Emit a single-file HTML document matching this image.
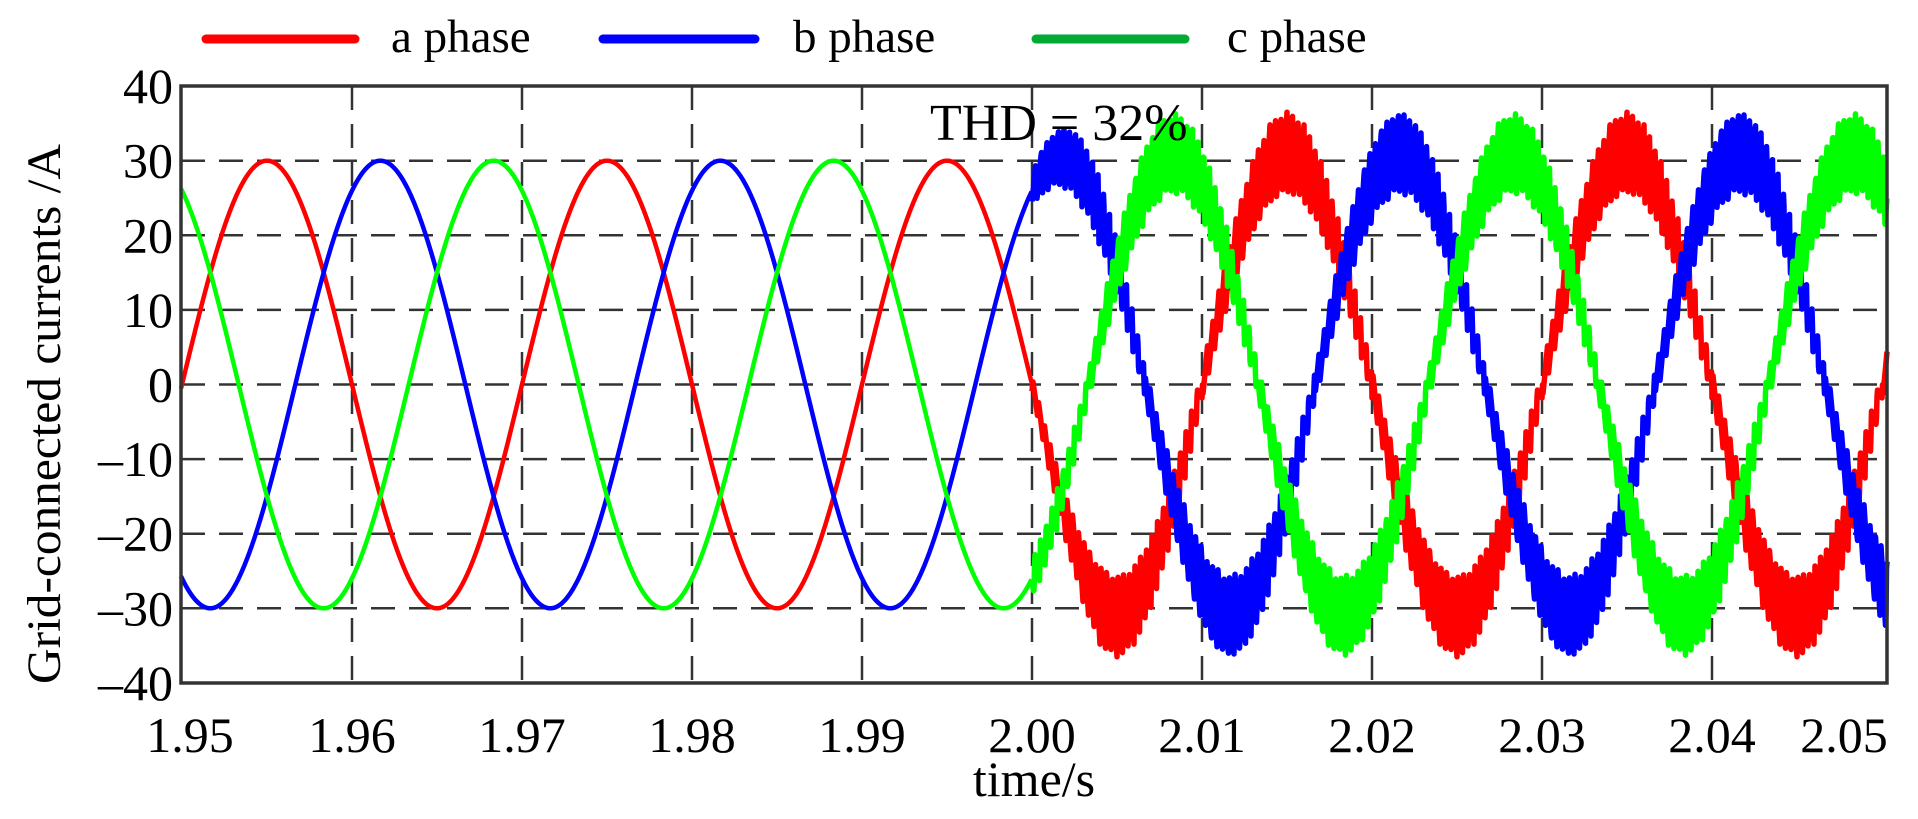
<!DOCTYPE html>
<html><head><meta charset="utf-8"><style>
html,body{margin:0;padding:0;background:#fff;}
svg{display:block;font-family:"Liberation Serif",serif;}
</style></head><body>
<svg id="s" width="1918" height="819" viewBox="0 0 1918 819" xmlns="http://www.w3.org/2000/svg">
<rect width="1918" height="819" fill="#fff"/>
<g id="grid" stroke="#333" stroke-width="2.5" stroke-dasharray="24,14" fill="none"></g>
<g id="traces" fill="none" stroke-linejoin="round"></g>
<rect x="181" y="86" width="1706" height="597" fill="none" stroke="#333" stroke-width="3.5"/>
<g id="ticks" fill="#000" font-size="50"></g>
<text x="930" y="140" font-size="52">THD = 32%</text>
<text x="1034" y="796" font-size="50" text-anchor="middle">time/s</text>
<text transform="translate(60,414) rotate(-90)" font-size="48" text-anchor="middle" textLength="540" lengthAdjust="spacingAndGlyphs">Grid-connected currents /A</text>
<line x1="206" y1="39" x2="355" y2="39" stroke="#f00" stroke-width="9" stroke-linecap="round"/>
<text x="391" y="52" font-size="47">a phase</text>
<line x1="603" y1="39" x2="755" y2="39" stroke="#00f" stroke-width="9" stroke-linecap="round"/>
<text x="793" y="52" font-size="47">b phase</text>
<line x1="1036" y1="39" x2="1185" y2="39" stroke="#0a3" stroke-width="9" stroke-linecap="round"/>
<text x="1227" y="52" font-size="47">c phase</text>
</svg>
<script>
var NS="http://www.w3.org/2000/svg";
function X(t){return 182+(t-1.95)*17000;}
function Y(v){return 384.5-v*7.46;}
var g=document.getElementById('grid'),tk=document.getElementById('ticks');
for(var i=1;i<=9;i++){var x=X(1.95+i*0.01);var l=document.createElementNS(NS,'line');
l.setAttribute('x1',x);l.setAttribute('x2',x);l.setAttribute('y1',86);l.setAttribute('y2',683);g.appendChild(l);}
for(var v=-30;v<=30;v+=10){var y=Y(v);var l=document.createElementNS(NS,'line');
l.setAttribute('x1',181);l.setAttribute('x2',1887);l.setAttribute('y1',y);l.setAttribute('y2',y);g.appendChild(l);}
for(var v=-40;v<=40;v+=10){var t=document.createElementNS(NS,'text');t.setAttribute('x',173);t.setAttribute('y',Y(v)+17);
t.setAttribute('text-anchor','end');t.textContent=(v<0?'\u2013'+(-v):''+v);tk.appendChild(t);}
var labs=['1.95','1.96','1.97','1.98','1.99','2.00','2.01','2.02','2.03','2.04','2.05'];
for(var i=0;i<11;i++){var t=document.createElementNS(NS,'text');t.setAttribute('x',X(1.95+i*0.01)+(i==0?8:(i==10?-38:0)));t.setAttribute('y',752);
t.setAttribute('text-anchor','middle');t.textContent=labs[i];tk.appendChild(t);}
var tr=document.getElementById('traces');
var cols=['#f00','#00f','#0f0'],ph=[0,-2*Math.PI/3,2*Math.PI/3];
for(var k=0;k<3;k++){
  var d='',d2='';
  for(var px=181;px<=1887;px+=0.5){
    var t=1.95+(px-182)/17000;
    var th=2*Math.PI*50*(t-1.95)+ph[k];
    var v;
    if(t<2.0){v=30*Math.sin(th);d+=(d?'L':'M')+px.toFixed(1)+','+Y(v).toFixed(1);}
    else{
      var ramp=Math.min(1,(t-2.0)/0.004);
      var s=Math.sin(th);
      var base=(30+1*ramp)*s;
      var ra=(1.8+3.7*Math.abs(s))*(0.5+0.5*ramp);
      var p=((t-2.0)*3000+k*0.33)%1;
      var saw=(p<0.15?p/0.15*2-1:1-(p-0.15)/0.85*2);
      v=base-ra*saw*(s>=0?1:-1);
      d2+=(d2?'L':'M')+px.toFixed(1)+','+Y(v).toFixed(1);
    }
  }
  var q=document.createElementNS(NS,'path');q.setAttribute('d',d);q.setAttribute('stroke',cols[k]);q.setAttribute('stroke-width','4.5');tr.appendChild(q);
  var q2=document.createElementNS(NS,'path');q2.setAttribute('d',d2);q2.setAttribute('stroke',cols[k]);q2.setAttribute('stroke-width','5.5');tr.appendChild(q2);
}
</script>
</body></html>
